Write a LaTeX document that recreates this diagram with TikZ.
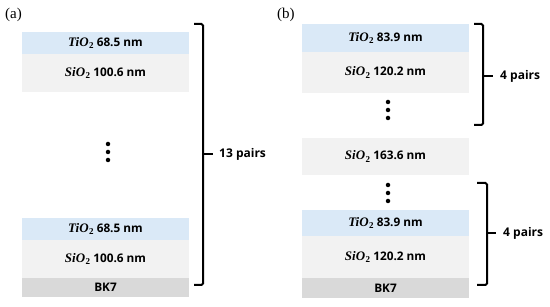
\documentclass[tikz,border=0pt]{standalone}
\usepackage{amsmath,amssymb}
\usepackage{fontspec}
\setsansfont{Open Sans}
\newfontfamily\panelfont{Liberation Serif}
\usepackage{tikz}
\usetikzlibrary{positioning}
\definecolor{tiblue}{RGB}{218,233,247}
\definecolor{sigray}{RGB}{242,242,242}
\definecolor{bkgray}{RGB}{217,217,217}
\newcommand{\chem}[1]{{\panelfont\bfseries\itshape\fontsize{13}{14}\selectfont #1\kern0.5pt}\raisebox{-0.4ex}{\panelfont\bfseries\fontsize{9}{10}\selectfont 2}}
\newcommand{\tio}{\chem{TiO}}
\newcommand{\sio}{\chem{SiO}}

\begin{document}
\begin{tikzpicture}[x=1pt, y=-1pt,
  layer/.style={minimum width=167pt, inner sep=0pt, outer sep=0pt,
                font=\sffamily\bfseries\fontsize{11.8}{13}\selectfont},
  tiolayer/.style={layer, fill=tiblue},
  siolayer/.style={layer, fill=sigray},
  bklayer/.style={layer, fill=bkgray},
  brace/.style={line width=2pt, rounded corners=1.5pt},
  pairs/.style={anchor=west, inner sep=0pt, font=\sffamily\bfseries\fontsize{12}{14}\selectfont},
  dot/.style={circle, fill=black, inner sep=0pt, minimum size=4.5pt}]
  \useasboundingbox (0,0) rectangle (550,307);

  % (a): 13 pairs
  \node[anchor=west, inner sep=0pt, font=\panelfont\fontsize{15}{18}\selectfont] (la) at (5,15) {(a)};
  \node[tiolayer, minimum height=22pt, anchor=north west] (aT1) at (22,32) {\tio\ 68.5 nm};
  \node[siolayer, minimum height=38pt, below=0pt of aT1] (aS1) {\sio\ 100.6 nm};
  \foreach \y [count=\i] in {144,152,160}
    \node[dot] (aD\i) at (108,\y) {};
  \node[bklayer, minimum height=19pt, anchor=south west] (aB) at (22,297) {BK7};
  \node[siolayer, minimum height=38pt, above=0pt of aB] (aS2) {\sio\ 100.6 nm};
  \node[tiolayer, minimum height=22pt, above=0pt of aS2] (aT2) {\tio\ 68.5 nm};
  \node[pairs] (aP) at (219,154) {13 pairs};
  \draw[brace] (194,24) -- (203,24) -- (203,285) -- (194,285);
  \draw[brace, shorten >=6pt] (203,154) -- (aP.west);

  % (b): 4 pairs + spacer + 4 pairs
  \node[anchor=west, inner sep=0pt, font=\panelfont\fontsize{15}{18}\selectfont] (lb) at (277,15) {(b)};
  \node[tiolayer, minimum height=28pt, anchor=north west] (bT1) at (302,24) {\tio\ 83.9 nm};
  \node[siolayer, minimum height=41pt, below=0pt of bT1] (bS1) {\sio\ 120.2 nm};
  \foreach \y [count=\i] in {102,110,118}
    \node[dot] (bD\i) at (388,\y) {};
  \node[siolayer, minimum height=37pt, anchor=north west] (bM) at (302,138) {\sio\ 163.6 nm};
  \foreach \y [count=\i] in {185,193,201}
    \node[dot] (bE\i) at (388,\y) {};
  \node[bklayer, minimum height=20pt, anchor=south west] (bB) at (302,298) {BK7};
  \node[siolayer, minimum height=42pt, above=0pt of bB] (bS2) {\sio\ 120.2 nm};
  \node[tiolayer, minimum height=26pt, above=0pt of bS2] (bT2) {\tio\ 83.9 nm};
  \node[pairs] (bP1) at (500,76) {4 pairs};
  \node[pairs] (bP2) at (503,233) {4 pairs};
  \draw[brace] (474,24) -- (483,24) -- (483,125) -- (474,125);
  \draw[brace, shorten >=7pt] (483,76) -- (bP1.west);
  \draw[brace] (477,183) -- (487,183) -- (487,285) -- (477,285);
  \draw[brace, shorten >=7pt] (487,233) -- (bP2.west);
\end{tikzpicture}
\end{document}
